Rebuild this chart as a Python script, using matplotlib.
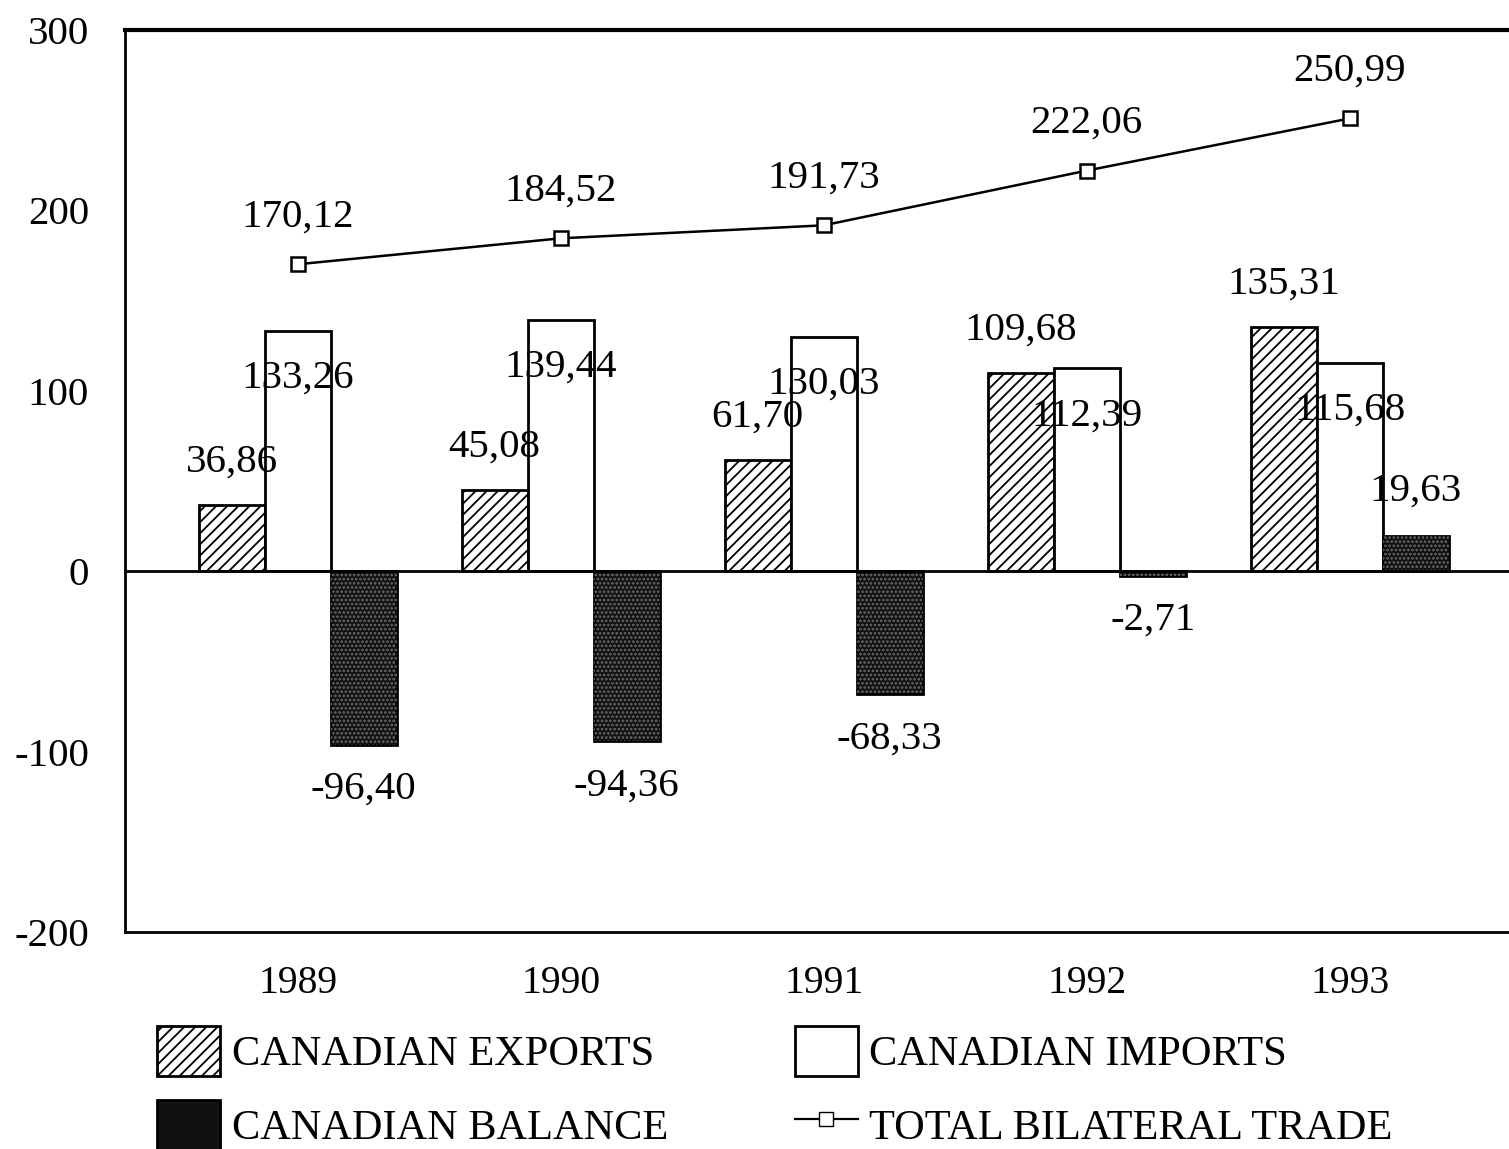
import matplotlib
matplotlib.use("Agg")
import matplotlib.pyplot as plt
import numpy as np
from matplotlib.patches import Patch
from matplotlib.lines import Line2D

years = ["1989", "1990", "1991", "1992", "1993"]
exports = [36.86, 45.08, 61.70, 109.68, 135.31]
imports = [133.26, 139.44, 130.03, 112.39, 115.68]
balance = [-96.40, -94.36, -68.33, -2.71, 19.63]
total = [170.12, 184.52, 191.73, 222.06, 250.99]

def fmt(v):
    return f"{v:.2f}".replace(".", ",")

plt.rcParams['font.family'] = ['Liberation Serif', 'DejaVu Serif']
plt.rcParams['hatch.linewidth'] = 1.3

fig = plt.figure(figsize=(15.09, 11.49), dpi=100)
ax = fig.add_axes([125/1509, 1-932/1149, 1-125/1509, (932-30)/1149])

x = np.arange(len(years))
w = 0.251

ax.bar(x - w, exports, w, facecolor='white', edgecolor='black', linewidth=2, hatch='///', zorder=3)
ax.bar(x, imports, w, facecolor='white', edgecolor='black', linewidth=2, zorder=3)
ax.bar(x + w, balance, w, facecolor='#111111', edgecolor='black', linewidth=2, zorder=3)
ax.bar(x + w, balance, w, facecolor='none', edgecolor='#6a6a6a', linewidth=0, hatch='....', zorder=3.5)

ax.plot(x, total, color='black', lw=1.8, marker='s', markersize=10, markerfacecolor='white',
        markeredgecolor='black', markeredgewidth=1.8, zorder=5)

ax.axhline(0, color='black', lw=2, zorder=4)

fs = 29.5
for i in range(len(years)):
    ax.annotate(fmt(exports[i]), (x[i] - w, exports[i]), xytext=(0, 31), textcoords='offset points',
                ha='center', va='center', fontsize=fs, zorder=6)
    ax.annotate(fmt(imports[i]), (x[i], imports[i]), xytext=(0, -34), textcoords='offset points',
                ha='center', va='center', fontsize=fs, zorder=6)
    off = 32 if balance[i] >= 0 else -32
    ax.annotate(fmt(balance[i]), (x[i] + w, balance[i]), xytext=(0, off), textcoords='offset points',
                ha='center', va='center', fontsize=fs, zorder=6)
    ax.annotate(fmt(total[i]), (x[i], total[i]), xytext=(0, 34), textcoords='offset points',
                ha='center', va='center', fontsize=fs, zorder=6)

ax.set_xlim(-0.656, 4.605)
ax.set_ylim(-200, 300)
ax.set_yticks([-200, -100, 0, 100, 200, 300])
ax.set_yticklabels(["-200", "-100", "0", "100", "200", "300"])
ax.set_xticks(x)
ax.set_xticklabels(years)
ax.tick_params(axis='y', length=0, pad=26, labelsize=29.5)
ax.tick_params(axis='x', length=0, pad=24, labelsize=28.5)
ax.spines['right'].set_visible(False)
ax.spines['top'].set_linewidth(3)
ax.spines['left'].set_linewidth(2)
ax.spines['bottom'].set_linewidth(2)

handles = [
    Patch(facecolor='white', edgecolor='black', hatch='///', linewidth=2),
    Patch(facecolor='#111111', edgecolor='black', linewidth=2),
    Patch(facecolor='white', edgecolor='black', linewidth=2),
    Line2D([0], [0], color='black', lw=1.6, marker='s', markersize=10, markerfacecolor='white',
           markeredgecolor='black'),
]
labels = ["CANADIAN EXPORTS", "CANADIAN BALANCE", "CANADIAN IMPORTS", "TOTAL BILATERAL TRADE"]
fig.legend(handles, labels, loc='upper left', bbox_to_anchor=(157/1509, 1-1026/1149), ncol=2,
           frameon=False, fontsize=30.5, handlelength=1.48, handleheight=1.45, handletextpad=0.28,
           labelspacing=0.55, columnspacing=3.0, borderpad=0, borderaxespad=0)

fig.savefig("out.png", dpi=100)
